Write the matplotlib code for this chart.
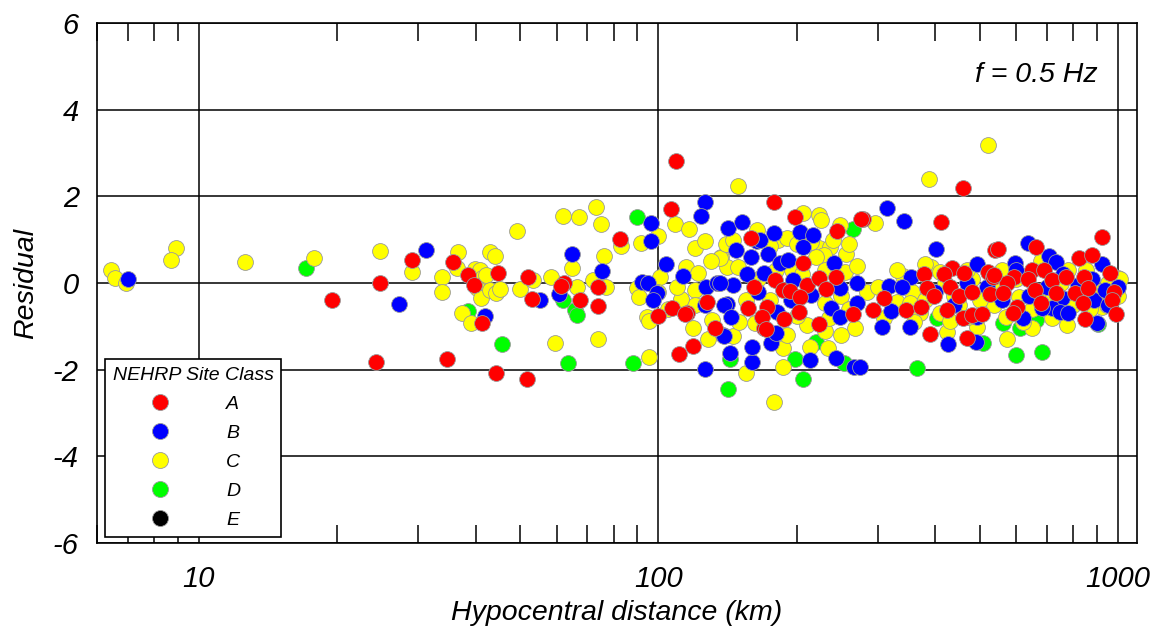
import numpy as np
import matplotlib
matplotlib.use("Agg")
import matplotlib.pyplot as plt
from matplotlib.lines import Line2D
from matplotlib.ticker import LogLocator, NullFormatter, FixedLocator

plt.rcParams['font.family'] = ['Liberation Sans', 'DejaVu Sans']
plt.rcParams['font.style'] = 'italic'
plt.rcParams['axes.unicode_minus'] = False

# residuals: (hypocentral distance km, residual)
class_a = [
    (19.5, -0.40), (24.8, 0.0), (24.3, -1.83), (29.1, 0.53), (35.8, 0.48), (38.5, 0.18),
    (39.6, -0.05), (44.7, 0.23), (41.4, -0.92), (52, 0.14), (53, -0.37), (34.7, -1.75),
    (44.4, -2.08), (51.8, -2.22), (62.2, 0.0), (61.3, -0.07), (67.4, -0.39), (82.5, 1.02),
    (74, -0.09), (73.8, -0.53), (106.6, 1.70), (109, 2.82), (178, 1.87), (159, 1.04),
    (179, 0.07), (161, -0.09), (127.6, -0.44), (107, -0.58), (115.6, -0.69), (157, -0.58),
    (172, -0.55), (100, -0.76), (111, -1.64), (119, -1.45), (133, -1.04), (170, -1.04),
    (114, -0.71), (198, 1.52), (245, 1.20), (278, 1.48), (206, 0.46), (211, -0.05),
    (224, 0.12), (243, 0.14), (232, -0.14), (187, -0.16), (193, -0.18), (203, -0.32),
    (168, -0.78), (188, -0.83), (202, -0.67), (265, -0.72), (224, -0.95), (171, -1.06),
    (460, 2.19), (276, 1.48), (411, 1.41), (541, 0.76), (379, 0.21), (436, 0.35),
    (462, 0.23), (418, 0.21), (522, 0.25), (535, 0.14), (384, -0.12), (430, -0.09),
    (398, -0.30), (451, -0.30), (480, -0.21), (527, -0.25), (310, -0.35), (293, -0.62),
    (345, -0.62), (373, -0.55), (425, -0.62), (460, -0.81), (480, -0.74), (505, -0.72),
    (389, -1.18), (469, -1.27), (921, 1.06), (549, 0.78), (664, 0.83), (823, 0.58),
    (879, 0.65), (963, 0.23), (594, 0.14), (649, 0.30), (690, 0.30), (574, 0.0),
    (637, 0.09), (719, 0.07), (772, 0.14), (842, 0.14), (563, -0.23), (659, -0.16),
    (734, -0.23), (807, -0.23), (861, -0.12), (980, -0.21), (972, -0.39), (680, -0.46),
    (838, -0.46), (604, -0.55), (590, -0.69), (846, -0.83), (990, -0.72), (537, 0.18),
]
class_b = [
    (7.0, 0.09), (27.2, -0.48), (31.2, 0.76), (42, -0.76), (55.3, -0.39), (60.7, -0.25),
    (64.8, 0.67), (75.2, 0.28), (96.5, 1.39), (96.5, 0.97), (92, 0.02), (94.9, 0.0),
    (99.5, -0.24), (97.2, -0.39), (104, 0.44), (126.5, 1.87), (124, 1.55), (141.7, 1.27),
    (152, 1.41), (178, 1.16), (147.5, 0.76), (159, 0.60), (173, 0.67), (113, 0.16),
    (156, 0.21), (170, 0.23), (127, -0.09), (134, 0.0), (145, -0.05), (126.5, -0.51),
    (141, -0.48), (138, -1.20), (126.5, -1.98), (143, -1.62), (160, -1.82), (160, -1.48),
    (176, -1.38), (139, -0.51), (164, 0.97), (203, 1.18), (217, 1.11), (206, 0.83),
    (184, 0.46), (191, 0.53), (241, 0.46), (196, 0.07), (248, -0.12), (271, 0.0),
    (136, 0.0), (165, -0.21), (215, -0.28), (194, -0.39), (144, -0.78), (181, -0.67),
    (237, -0.58), (248, -0.78), (270, -0.46), (139, -1.22), (180, -1.15), (243, -1.73),
    (267, -1.94), (214, -1.78), (314, 1.73), (342, 1.43), (401, 0.78), (494, 0.44),
    (354, 0.14), (317, -0.07), (338, -0.09), (469, 0.0), (320, -0.65), (494, -0.78),
    (307, -1.02), (352, -1.02), (492, -1.36), (427, -1.41), (274, -1.94), (637, 0.92),
    (709, 0.62), (734, 0.48), (921, 0.44), (596, 0.46), (756, -0.35), (719, -0.58),
    (747, -0.67), (684, -0.58), (888, -0.39), (937, -0.16), (898, -0.92), (166, 1.0),
    (640, -0.3), (700, -0.1), (760, 0.2), (820, -0.05), (880, 0.1), (950, -0.5),
    (1000, -0.1), (560, -0.4), (620, -0.8), (780, -0.7), (400, -0.2), (440, -0.5),
    (520, -0.1), (600, 0.3),
]
class_c = [
    (6.45, 0.30), (6.55, 0.12), (6.95, 0.0), (8.9, 0.80), (8.7, 0.53), (12.6, 0.49),
    (17.8, 0.57), (24.8, 0.75), (29.1, 0.25), (33.8, 0.14), (33.8, -0.21), (36.6, 0.72),
    (36.4, 0.35), (39.8, 0.32), (40.8, 0.30), (41.4, 0.12), (42.2, 0.18), (40.2, -0.12),
    (41.2, -0.35), (42.9, 0.72), (44, 0.62), (42.9, -0.16), (44.4, -0.24), (45.1, -0.14),
    (37.3, -0.70), (39.1, -0.92), (49.3, 1.20), (50, -0.14), (53.2, 0.07), (58.5, 0.14),
    (61.9, 1.55), (67, 1.52), (64.8, 0.35), (66.4, -0.09), (59.6, -1.38), (73, 1.75),
    (75, 1.36), (83, 0.85), (76, 0.62), (72, 0.07), (77, -0.09), (73.8, -1.29),
    (100, 1.08), (91.5, 0.92), (89.6, -0.12), (90.5, -0.32), (101, 0.14), (108.7, 1.36),
    (116.6, 1.24), (149, 2.24), (120, 0.80), (126.5, 0.97), (137, 0.60), (141, 0.37),
    (115, 0.37), (122, 0.23), (120, -0.16), (112, -0.39), (94.5, -0.78), (95.3, -0.88),
    (119, -1.04), (95.3, -1.70), (128, -1.29), (145, -1.22), (155, -2.08), (178, -2.75),
    (131, -0.85), (120, -0.51), (112, -0.37), (206, 1.62), (224, 1.57), (226, 1.45),
    (248, 1.34), (164, 1.22), (182, 1.0), (190, 1.04), (224, 0.81), (236, 0.83),
    (256, 0.67), (136, 0.58), (149, 0.37), (229, 0.65), (220, 0.60), (210, -0.97),
    (162, -0.92), (268, -1.04), (187, -1.50), (214, -1.48), (234, -1.50), (187, -1.94),
    (200, 0.9), (215, 0.95), (240, 1.0), (260, 0.9), (175, 0.85), (195, 0.3),
    (230, 0.3), (255, 0.25), (165, 0.1), (205, 0.2), (250, -0.3), (175, -0.4),
    (230, -0.45), (200, -0.75), (260, -0.6), (155, -0.4), (140, 0.9), (130, 0.5),
    (110, -0.1), (105, -0.6), (150, -0.9), (230, -1.1), (250, -1.2), (270, 0.4),
    (285, -0.2), (180, 0.3), (100, -0.2), (145, 1.0), (235, -0.8), (190, -1.2),
    (521, 3.18), (387, 2.40), (296, 1.38), (340, 0.16), (391, 0.37), (425, -1.13),
    (356, -0.21), (370, -0.69), (409, -0.69), (430, -0.88), (494, -1.02), (471, -0.78),
    (330, -0.44), (352, -0.46), (1000, 0.12), (921, -0.55), (776, -0.97), (649, -1.04),
    (570, -0.78), (573, -1.29), (608, -0.32), (537, -0.51), (948, -0.51),
    (300, -0.1), (330, 0.3), (380, -0.4), (420, 0.0), (450, -0.5), (480, 0.1),
    (500, -0.4), (550, -0.1), (600, 0.1), (650, -0.6), (700, -0.3), (750, 0.0),
    (800, -0.5), (850, 0.3), (900, -0.2), (950, 0.0), (1000, -0.3), (620, -0.9),
    (720, -0.8), (560, 0.3), (680, 0.5), (780, 0.3), (870, -0.6), (1010, 0.1),
    (410, 0.25), (440, -0.3), (470, 0.3), (360, -0.9), (310, -0.8), (380, 0.45),
]
class_d = [
    (17.1, 0.34), (38.5, -0.65), (45.6, -1.41), (61.9, -0.39), (65.7, -0.62), (66.4, -0.74),
    (63.4, -1.85), (89.6, 1.52), (88, -1.85), (142, -2.45), (265, 1.25), (220, -1.36),
    (253, -1.85), (198, -1.75), (206, -2.22), (143, -1.75), (366, -1.96), (509, -1.38),
    (563, -0.92), (613, -1.04), (664, -0.85), (600, -1.66), (684, -1.59), (905, -0.95),
    (404, -0.80),
]
class_e = []

classes = ['A', 'B', 'C', 'D', 'E']
colors = {'A': '#ff0000', 'B': '#0000ff', 'C': '#ffff00', 'D': '#00ff00', 'E': '#000000'}
data = {'A': class_a, 'B': class_b, 'C': class_c, 'D': class_d, 'E': class_e}

fig = plt.figure(figsize=(11.59, 6.29), dpi=100)
ax = fig.add_axes([97/1159, 1 - 543/629, 1040/1159, 520/629])

# drawing order as it looks in the original: green, yellow, blue, red on top
for k in ['E', 'D', 'C', 'B', 'A']:
    if len(data[k]) == 0:
        continue
    arr = np.array(data[k])
    ax.scatter(arr[:, 0], arr[:, 1], s=130, c=colors[k], edgecolors='#9a9a9a',
               linewidths=0.6, zorder=3)

ax.set_xscale('log')
ax.set_xlim(6.0, 1100)
ax.set_ylim(-6, 6)

ax.xaxis.set_major_locator(FixedLocator([10, 100, 1000]))
ax.set_xticklabels(['10', '100', '1000'])
ax.xaxis.set_minor_locator(LogLocator(base=10, subs=np.arange(2, 10), numticks=20))
ax.xaxis.set_minor_formatter(NullFormatter())
ax.set_yticks(np.arange(-6, 7, 2))

ax.tick_params(axis='both', which='major', length=0, labelsize=21)
ax.tick_params(axis='x', which='major', pad=16)
ax.tick_params(axis='y', which='major', pad=13)
ax.tick_params(axis='x', which='minor', direction='in', length=13, width=1.1,
               top=True, bottom=True)

ax.grid(True, which='major', color='k', linewidth=1.1)
ax.set_axisbelow(True)
for sp in ax.spines.values():
    sp.set_linewidth(1.2)

ax.set_xlabel('Hypocentral distance (km)', fontsize=20.5, labelpad=5)
ax.set_ylabel('Residual', fontsize=20.5)
ax.yaxis.set_label_coords(-0.056, 0.5)

ax.text(0.9625, 0.90, 'f = 0.5 Hz', transform=ax.transAxes, ha='right', va='center',
        fontsize=20.5)

handles = [Line2D([], [], ls='none', marker='o', markersize=11.5,
                  markerfacecolor=colors[k], markeredgecolor='#9a9a9a',
                  markeredgewidth=0.6) for k in classes]
leg = ax.legend(handles, classes, title='NEHRP Site Class', loc='lower left',
                bbox_to_anchor=(0.0077, 0.0115), borderaxespad=0, fontsize=14,
                title_fontsize=14, handlelength=1.44, handletextpad=2.68,
                labelspacing=0.59, borderpad=0.4, fancybox=False, framealpha=1,
                edgecolor='k')
leg.get_frame().set_linewidth(1.2)
leg.set_zorder(10)

fig.savefig('out.png', dpi=100)
